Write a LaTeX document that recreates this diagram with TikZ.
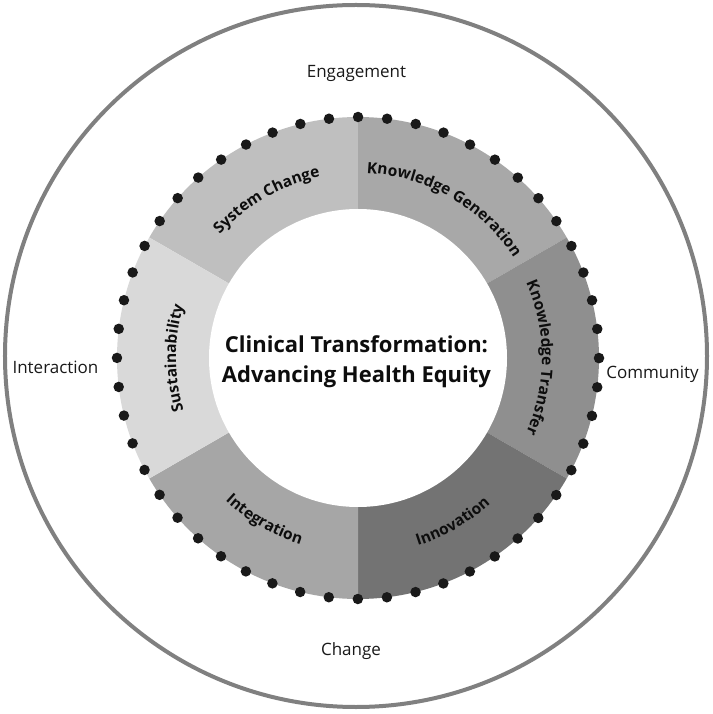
\documentclass[tikz,border=0pt]{standalone}
\usepackage{fontspec}
\setmainfont{Open Sans}
\usepackage{tikz}
\usetikzlibrary{decorations.text}
\newcommand{\seglabelfont}{\bfseries\fontsize{15.5}{18}\selectfont}
\tikzset{% 
	outer_ring/.style={line width=4pt,draw=black!50},
	ring_dots/.style={line width=10.5pt,draw=black!90,line cap=round,dash pattern=on 0pt off 29.12pt}
}
\tikzset{% 
	outer_label/.style={font=\fontsize{17}{20}\selectfont,text=black!90,anchor=base,inner sep=0pt},
	title_text/.style={font=\bfseries\fontsize{22}{26}\selectfont,text=black!95,anchor=base,inner sep=0pt},
	curved_label/.style={decorate,decoration={text along path,text align=center,text color=black!95}}
}
\begin{document}
\begin{tikzpicture}[x=1pt,y=1pt]
		\fill [white] (-356,-357) rectangle (356,357);
		\useasboundingbox (-356,-357) rectangle (356,357);

		\coordinate (ringc) at (2,-1);

		%Outer circle
		\draw [outer_ring] (0,1) circle [radius=351pt];

		%Segments of the ring
		\fill [fill=black!25] (ringc) -- ++(90:241pt) arc [start angle=90,end angle=150,radius=241pt] -- cycle;
		\fill [fill=black!34] (ringc) -- ++(30:241pt) arc [start angle=30,end angle=90,radius=241pt] -- cycle;
		\fill [fill=black!44] (ringc) -- ++(-30:241pt) arc [start angle=-30,end angle=30,radius=241pt] -- cycle;
		\fill [fill=black!55] (ringc) -- ++(-90:241pt) arc [start angle=-90,end angle=-30,radius=241pt] -- cycle;
		\fill [fill=black!35] (ringc) -- ++(-150:241pt) arc [start angle=-150,end angle=-90,radius=241pt] -- cycle;
		\fill [fill=black!15] (ringc) -- ++(150:241pt) arc [start angle=150,end angle=210,radius=241pt] -- cycle;

		%Inner white circle
		\fill [white] (ringc) circle [radius=149pt];

		%Labels on the ring (upper ones run clockwise, lower ones counter-clockwise)
		\path [curved_label,decoration={text={|\seglabelfont|System Change}}]
			(ringc) ++(170:185pt) arc [start angle=170,end angle=70,radius=185pt];
		\path [curved_label,decoration={text={|\seglabelfont|Knowledge Generation}}]
			(ringc) ++(110:185pt) arc [start angle=110,end angle=10,radius=185pt];
		\path [curved_label,decoration={text={|\seglabelfont|Knowledge Transfer}}]
			(ringc) ++(50:184pt) arc [start angle=50,end angle=-50,radius=184pt];
		\path [curved_label,decoration={text={|\seglabelfont|Sustainability}}]
			(ringc) ++(230:182pt) arc [start angle=230,end angle=130,radius=182pt];
		\path [curved_label,decoration={text={|\seglabelfont|Integration}}]
			(ringc) ++(-170:195pt) arc [start angle=-170,end angle=-70,radius=195pt];
		\path [curved_label,decoration={text={|\seglabelfont|Innovation}}]
			(ringc) ++(-110:197pt) arc [start angle=-110,end angle=-10,radius=197pt];

		%Dotted edge
		\draw [ring_dots] (ringc) circle [radius=241pt];

		%Title
		\node (title_a) [title_text] at (0.5,4) {Clinical Transformation:};
		\node (title_b) [title_text] at (0.5,-26) {Advancing Health Equity};

		%Outer labels
		\node (engagement) [outer_label] at (0.5,279) {Engagement};
		\node (interaction) [outer_label] at (-300.5,-17) {Interaction};
		\node (community) [outer_label] at (296.5,-22) {Community};
		\node (change) [outer_label] at (-5,-298) {Change};

	\end{tikzpicture}
\end{document}
